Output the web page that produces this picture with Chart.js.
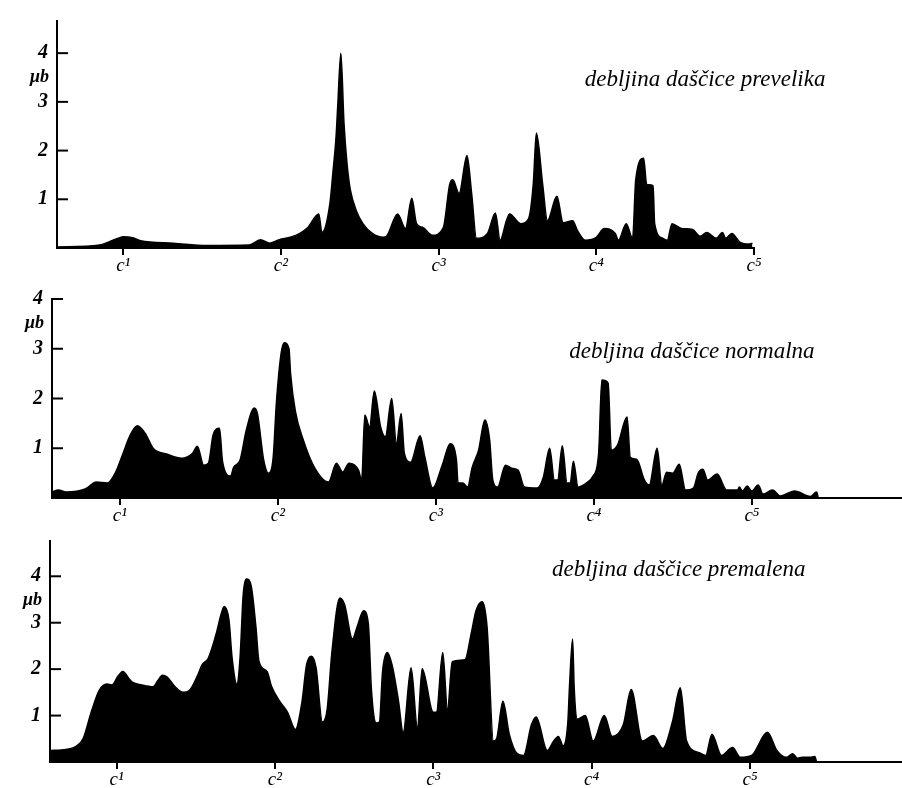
<!DOCTYPE html>
<html>
<head>
<meta charset="utf-8">
<script src="https://cdn.jsdelivr.net/npm/chart.js@4.4.1/dist/chart.umd.min.js"></script>
<style>
  html, body { margin: 0; padding: 0; background: #fff; }
  #wrap { position: relative; width: 902px; height: 788px; overflow: hidden; }
  .panel { position: absolute; left: 0; width: 902px; }
  canvas { display: block; }
</style>
</head>
<body>
<div id="wrap">
  <div class="panel" style="top:0px"><canvas id="big" width="902" height="275"></canvas></div>
  <div class="panel" style="top:275px"><canvas id="normal" width="902" height="255"></canvas></div>
  <div class="panel" style="top:520px"><canvas id="small" width="902" height="268"></canvas></div>
</div>
<script>
// x = position in octaves (c1 = 1 ... c5 = 5), y = amplitude in microbar
const octaveTicks = [1, 2, 3, 4, 5];
const octaveLabels = ['c¹', 'c²', 'c³', 'c⁴', 'c⁵'];
const ampTicks = [1, 2, 3, 4];
const unitLabel = 'μb';
const titles = ['debljina daščice prevelika', 'debljina daščice normalna', 'debljina daščice premalena'];

// debljina daščice prevelika
const bigX = [0.58,0.85,0.95,1.00,1.06,1.11,1.32,1.53,1.80,1.87,1.93,1.99,2.06,2.12,2.17,2.24,2.26,2.31,2.33,2.35,2.36,2.38,2.40,2.42,2.44,2.48,2.52,2.58,2.65,2.67,2.74,2.79,2.83,2.86,2.90,2.96,3.03,3.07,3.09,3.13,3.18,3.21,3.24,3.31,3.36,3.39,3.43,3.45,3.52,3.57,3.60,3.62,3.66,3.69,3.75,3.79,3.85,3.88,3.93,4.00,4.05,4.12,4.14,4.19,4.23,4.25,4.30,4.32,4.36,4.37,4.42,4.45,4.48,4.54,4.61,4.66,4.70,4.76,4.80,4.82,4.86,4.91,4.97,4.99];
const bigY = [0.02,0.06,0.18,0.23,0.21,0.15,0.10,0.05,0.06,0.17,0.10,0.17,0.22,0.30,0.42,0.70,0.32,0.90,1.56,2.30,2.90,4.00,2.56,1.70,1.20,0.75,0.50,0.30,0.22,0.24,0.70,0.40,1.02,0.50,0.42,0.26,0.42,1.30,1.40,1.12,1.90,1.10,0.20,0.30,0.72,0.16,0.56,0.70,0.50,0.60,1.30,2.36,1.30,0.56,1.06,0.52,0.56,0.36,0.16,0.22,0.40,0.30,0.16,0.50,0.20,1.40,1.84,1.30,1.28,0.50,0.20,0.16,0.50,0.40,0.38,0.24,0.32,0.20,0.32,0.20,0.30,0.12,0.08,0.10];

// debljina daščice normalna
const normalX = [0.57,0.61,0.66,0.78,0.85,0.92,0.97,1.02,1.06,1.11,1.16,1.21,1.30,1.39,1.46,1.49,1.53,1.56,1.59,1.63,1.65,1.70,1.72,1.76,1.80,1.85,1.87,1.91,1.94,1.97,1.99,2.02,2.04,2.07,2.08,2.11,2.16,2.23,2.32,2.37,2.41,2.45,2.51,2.53,2.55,2.58,2.61,2.65,2.68,2.72,2.75,2.78,2.80,2.84,2.90,2.93,2.98,3.04,3.09,3.13,3.14,3.17,3.20,3.23,3.27,3.31,3.34,3.36,3.39,3.44,3.48,3.52,3.56,3.64,3.68,3.72,3.75,3.77,3.80,3.83,3.85,3.87,3.90,3.96,3.99,4.03,4.05,4.09,4.11,4.15,4.21,4.23,4.27,4.32,4.35,4.40,4.43,4.46,4.50,4.54,4.58,4.63,4.66,4.69,4.72,4.78,4.84,4.91,4.92,4.94,4.97,5.00,5.04,5.07,5.13,5.18,5.27,5.37,5.41,5.42];
const normalY = [0.12,0.16,0.12,0.18,0.32,0.30,0.50,0.90,1.23,1.45,1.30,1.00,0.88,0.80,0.90,1.04,0.66,0.70,1.27,1.40,0.72,0.44,0.62,0.76,1.37,1.81,1.70,0.76,0.50,0.82,1.90,2.90,3.12,3.00,2.50,1.75,1.17,0.62,0.32,0.70,0.52,0.70,0.56,0.36,1.67,1.43,2.15,1.43,1.23,2.00,1.10,1.70,0.90,0.72,1.25,0.82,0.20,0.66,1.09,0.76,0.30,0.30,0.22,0.62,0.96,1.57,1.17,0.36,0.22,0.66,0.60,0.56,0.22,0.20,0.42,1.00,0.36,0.36,1.05,0.30,0.30,0.74,0.22,0.32,0.42,0.90,2.37,2.31,0.96,1.07,1.63,0.82,0.78,0.36,0.26,1.00,0.26,0.52,0.50,0.68,0.16,0.20,0.50,0.58,0.36,0.48,0.16,0.16,0.22,0.14,0.24,0.14,0.26,0.08,0.16,0.04,0.14,0.03,0.12,0.00];

// debljina daščice premalena
const smallX = [0.58,0.68,0.75,0.79,0.84,0.89,0.94,0.97,1.01,1.04,1.08,1.10,1.16,1.23,1.26,1.29,1.32,1.37,1.42,1.46,1.51,1.54,1.58,1.63,1.66,1.68,1.71,1.73,1.76,1.78,1.80,1.82,1.85,1.88,1.90,1.95,1.98,2.03,2.08,2.13,2.17,2.20,2.23,2.26,2.30,2.33,2.36,2.41,2.44,2.49,2.52,2.56,2.59,2.61,2.64,2.66,2.68,2.71,2.74,2.78,2.81,2.86,2.90,2.93,3.00,3.02,3.06,3.09,3.12,3.20,3.24,3.27,3.31,3.34,3.38,3.40,3.44,3.48,3.53,3.57,3.62,3.65,3.72,3.76,3.79,3.82,3.85,3.86,3.88,3.89,3.91,3.96,4.01,4.08,4.13,4.20,4.25,4.32,4.39,4.45,4.51,4.56,4.60,4.68,4.72,4.76,4.82,4.89,4.94,5.01,5.11,5.17,5.23,5.27,5.30,5.33,5.38,5.41,5.42];
const smallY = [0.25,0.27,0.35,0.51,1.07,1.54,1.68,1.66,1.85,1.95,1.79,1.72,1.66,1.62,1.75,1.87,1.83,1.62,1.50,1.54,1.85,2.09,2.24,2.77,3.18,3.35,3.06,2.24,1.68,2.24,3.60,3.94,3.80,2.92,2.16,1.95,1.62,1.31,1.07,0.70,1.27,2.09,2.28,2.03,0.86,1.13,2.36,3.53,3.39,2.65,2.92,3.26,2.98,1.54,0.84,0.86,1.95,2.36,2.09,1.33,0.64,2.03,0.75,2.01,1.07,1.07,2.36,1.13,2.16,2.20,2.77,3.26,3.45,2.90,0.45,0.50,1.31,0.60,0.18,0.14,0.80,0.97,0.25,0.45,0.55,0.35,0.86,1.60,2.65,1.60,0.92,1.00,0.45,1.00,0.55,0.80,1.56,0.45,0.57,0.29,0.86,1.60,0.45,0.20,0.14,0.60,0.14,0.31,0.10,0.14,0.64,0.25,0.10,0.18,0.08,0.10,0.10,0.12,0.00];

Chart.defaults.font.family = '"Liberation Serif", "DejaVu Serif", serif';
Chart.defaults.color = '#000';

// inner y ticks, the unit label and the panel caption
const panelText = {
  id: 'panelText',
  afterDraw(chart, args, opts) {
    const { ctx, chartArea, scales: { x, y } } = chart;
    ctx.save();
    ctx.strokeStyle = '#000';
    ctx.lineWidth = 2;
    ampTicks.forEach(v => {
      const py = y.getPixelForValue(v);
      ctx.beginPath();
      ctx.moveTo(chartArea.left, py);
      ctx.lineTo(chartArea.left + 11, py);
      ctx.stroke();
    });
    ctx.fillStyle = '#000';
    ctx.textBaseline = 'middle';
    ctx.textAlign = 'right';
    ctx.font = 'italic bold 18px "Liberation Serif", serif';
    ctx.fillText(unitLabel, chartArea.left - 8, y.getPixelForValue(opts.unitAt));
    ctx.textAlign = 'center';
    ctx.font = 'italic 23px "Liberation Serif", serif';
    ctx.fillText(opts.title, x.getPixelForValue(opts.titleAt[0]), y.getPixelForValue(opts.titleAt[1]));
    ctx.restore();
  }
};

function makePanel(id, xs, ys, g) {
  return new Chart(document.getElementById(id), {
    type: 'line',
    data: {
      datasets: [{
        data: xs.map((x, i) => ({ x: x, y: ys[i] })),
        borderColor: '#000',
        backgroundColor: '#000',
        borderWidth: 1.5,
        fill: 'origin',
        pointRadius: 0,
        cubicInterpolationMode: 'monotone'
      }]
    },
    options: {
      responsive: false,
      animation: false,
      devicePixelRatio: 1,
      layout: { padding: { top: g.padTop, right: g.padRight, left: 0, bottom: 0 } },
      plugins: {
        legend: { display: false },
        tooltip: { enabled: false },
        panelText: { title: g.title, titleAt: g.titleAt, unitAt: g.unitAt }
      },
      scales: {
        x: {
          type: 'linear',
          min: g.xMin,
          max: g.xMax,
          afterBuildTicks: s => { s.ticks = octaveTicks.map(v => ({ value: v })); },
          afterFit: s => { s.height = g.xAxisH; },
          grid: { display: true, drawOnChartArea: false, drawTicks: true, tickLength: 7, color: '#000', lineWidth: 2 },
          border: { display: true, color: '#000', width: 2 },
          ticks: {
            padding: 0,
            autoSkip: false,
            maxRotation: 0,
            font: { size: 19, style: 'italic' },
            callback: v => octaveLabels[octaveTicks.indexOf(v)] || ''
          }
        },
        y: {
          min: 0,
          max: g.yMax,
          afterBuildTicks: s => { s.ticks = ampTicks.map(v => ({ value: v })); },
          afterFit: s => { s.width = g.axisLeft; },
          grid: { display: false, drawTicks: false },
          border: { display: true, color: '#000', width: 2 },
          ticks: {
            padding: 9,
            font: { size: 20, style: 'italic', weight: 'bold' },
            callback: v => String(v)
          }
        }
      }
    },
    plugins: [panelText]
  });
}

makePanel('big', bigX, bigY, {
  axisLeft: 57, xAxisH: 27, padTop: 15, padRight: 148,
  xMin: 0.58, xMax: 5.0, yMax: 4.66,
  title: titles[0], titleAt: [4.69, 3.44], unitAt: 3.5
});
makePanel('normal', normalX, normalY, {
  axisLeft: 52, xAxisH: 32, padTop: 24, padRight: 0,
  xMin: 0.57, xMax: 5.95, yMax: 4,
  title: titles[1], titleAt: [4.62, 2.93], unitAt: 3.52
});
makePanel('small', smallX, smallY, {
  axisLeft: 50, xAxisH: 26, padTop: 10, padRight: 0,
  xMin: 0.58, xMax: 5.96, yMax: 4.76,
  title: titles[2], titleAt: [4.55, 4.13], unitAt: 3.48
});
</script>
</body>
</html>
